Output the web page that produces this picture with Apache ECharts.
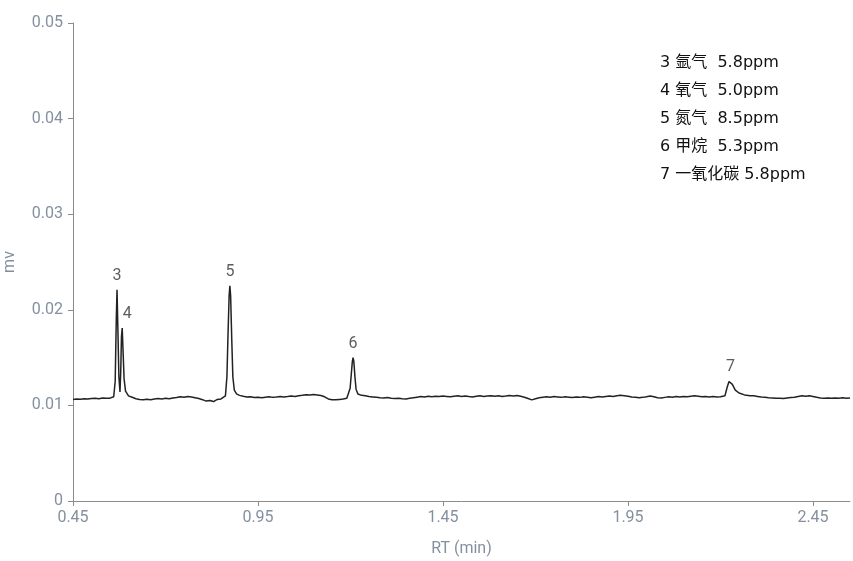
<!DOCTYPE html>
<html>
<head>
<meta charset="utf-8">
<script src="https://cdn.jsdelivr.net/npm/echarts@6/dist/echarts.min.js"></script>
<style>
  html, body { margin: 0; padding: 0; background: #fff; }
  #chart { width: 853px; height: 561px; }
</style>
</head>
<body>
<div id="chart"></div>
<script>
// retention time (min) of each sampled point
var rt = [
  0.45, 0.46, 0.47, 0.48, 0.49, 0.50, 0.51, 0.52, 0.53, 0.54, 0.55,
  0.555, 0.560, 0.564, 0.567, 0.569, 0.571, 0.574, 0.577, 0.579, 0.581, 0.583, 0.585, 0.588, 0.592,
  0.60, 0.61, 0.62, 0.63, 0.64, 0.65, 0.66, 0.67, 0.68, 0.69, 0.70, 0.71, 0.72, 0.73, 0.74, 0.75,
  0.76, 0.77, 0.78, 0.79, 0.80, 0.81, 0.815, 0.82, 0.825, 0.83, 0.835, 0.84, 0.85,
  0.855, 0.862, 0.866, 0.869, 0.872, 0.874, 0.876, 0.879, 0.882, 0.886, 0.892,
  0.90, 0.91, 0.92, 0.93, 0.94, 0.95, 0.96, 0.97, 0.98, 0.99, 1.00, 1.01, 1.02, 1.03, 1.04, 1.05,
  1.06, 1.07, 1.08, 1.09, 1.10, 1.11, 1.12, 1.13, 1.14, 1.15, 1.16, 1.17, 1.18, 1.19,
  1.195, 1.199, 1.202, 1.205, 1.207, 1.209, 1.212, 1.215, 1.220,
  1.23, 1.24, 1.25, 1.26, 1.27, 1.28, 1.29, 1.30, 1.31, 1.32, 1.33, 1.34, 1.35, 1.36, 1.37, 1.38,
  1.39, 1.40, 1.41, 1.42, 1.43, 1.44, 1.45, 1.46, 1.47, 1.48, 1.49, 1.50, 1.51, 1.52, 1.53, 1.54,
  1.55, 1.56, 1.57, 1.58, 1.59, 1.60, 1.61, 1.62, 1.63, 1.64, 1.65, 1.66, 1.67, 1.68, 1.69, 1.70,
  1.71, 1.72, 1.73, 1.74, 1.75, 1.76, 1.77, 1.78, 1.79, 1.80, 1.81, 1.82, 1.83, 1.84, 1.85, 1.86,
  1.87, 1.88, 1.89, 1.90, 1.91, 1.92, 1.93, 1.94, 1.95, 1.96, 1.97, 1.98, 1.99, 2.00, 2.01, 2.02,
  2.03, 2.04, 2.05, 2.06, 2.07, 2.08, 2.09, 2.10, 2.11, 2.12, 2.13, 2.14, 2.15, 2.16, 2.17, 2.18,
  2.19, 2.20, 2.205, 2.212, 2.218, 2.223, 2.227, 2.232, 2.240, 2.250, 2.265, 2.28,
  2.29, 2.30, 2.31, 2.32, 2.33, 2.34, 2.35, 2.36, 2.37, 2.38, 2.39, 2.40, 2.41, 2.42, 2.43, 2.44,
  2.45, 2.46, 2.47, 2.48, 2.49, 2.50, 2.51, 2.52, 2.53, 2.54, 2.55
];

// detector signal (mv) at each retention time
var signal = [
  0.01062, 0.01068, 0.01064, 0.01070, 0.01066, 0.01072, 0.01075, 0.01070, 0.01078, 0.01074, 0.01076,
  0.01075, 0.01090, 0.01250, 0.01900, 0.02210, 0.01850, 0.01300, 0.01140, 0.01350, 0.01720, 0.01810, 0.01600, 0.01280, 0.01150,
  0.01100, 0.01085, 0.01070, 0.01062, 0.01058, 0.01064, 0.01060, 0.01066, 0.01072, 0.01068, 0.01075, 0.01070, 0.01078, 0.01082, 0.01090, 0.01085,
  0.01094, 0.01088, 0.01080, 0.01072, 0.01060, 0.01045, 0.01038, 0.01052, 0.01060, 0.01040, 0.01048, 0.01062, 0.01068,
  0.01066, 0.01100, 0.01300, 0.01750, 0.02150, 0.02250, 0.02150, 0.01700, 0.01300, 0.01160, 0.01120,
  0.01105, 0.01095, 0.01088, 0.01090, 0.01082, 0.01086, 0.01080, 0.01085, 0.01090, 0.01084, 0.01088, 0.01094, 0.01088, 0.01092, 0.01098, 0.01092,
  0.01100, 0.01105, 0.01112, 0.01108, 0.01115, 0.01110, 0.01104, 0.01090, 0.01068, 0.01060, 0.01058, 0.01062, 0.01066, 0.01075,
  0.01095, 0.01180, 0.01320, 0.01460, 0.01500, 0.01460, 0.01300, 0.01170, 0.01120,
  0.01105, 0.01100, 0.01092, 0.01088, 0.01084, 0.01080, 0.01078, 0.01082, 0.01076, 0.01072, 0.01075, 0.01070, 0.01068, 0.01074, 0.01080, 0.01086,
  0.01092, 0.01088, 0.01095, 0.01090, 0.01096, 0.01092, 0.01098, 0.01094, 0.01090, 0.01096, 0.01100, 0.01094, 0.01098, 0.01092, 0.01088, 0.01095,
  0.01100, 0.01094, 0.01098, 0.01102, 0.01096, 0.01100, 0.01094, 0.01098, 0.01103, 0.01098, 0.01104, 0.01095, 0.01086, 0.01072, 0.01058, 0.01070,
  0.01080, 0.01086, 0.01090, 0.01086, 0.01092, 0.01088, 0.01084, 0.01090, 0.01086, 0.01082, 0.01088, 0.01084, 0.01090, 0.01086, 0.01080, 0.01086,
  0.01092, 0.01088, 0.01094, 0.01098, 0.01094, 0.01100, 0.01105, 0.01102, 0.01096, 0.01088, 0.01084, 0.01080, 0.01084, 0.01090, 0.01098, 0.01090,
  0.01080, 0.01078, 0.01084, 0.01090, 0.01086, 0.01092, 0.01088, 0.01094, 0.01090, 0.01095, 0.01100, 0.01096, 0.01090, 0.01094, 0.01088, 0.01092,
  0.01088, 0.01090, 0.01092, 0.01100, 0.01190, 0.01250, 0.01255, 0.01220, 0.01160, 0.01130, 0.01110, 0.01102,
  0.01100, 0.01094, 0.01088, 0.01084, 0.01080, 0.01078, 0.01074, 0.01076, 0.01072, 0.01078, 0.01082, 0.01086, 0.01094, 0.01100, 0.01096, 0.01100,
  0.01094, 0.01085, 0.01078, 0.01076, 0.01078, 0.01074, 0.01078, 0.01076, 0.01080, 0.01076, 0.01078
];

// peak numbers and where they sit
var peakNames = ['3', '4', '5', '6', '7'];
var peakRt = [0.569, 0.583, 0.874, 1.207, 2.227];
var peakTop = [0.02210, 0.01810, 0.02250, 0.01500, 0.01255];

// note in the top right corner
var noteLines = [
  '3 氩气  5.8ppm',
  '4 氧气  5.0ppm',
  '5 氮气  8.5ppm',
  '6 甲烷  5.3ppm',
  '7 一氧化碳 5.8ppm'
];

var xTicks = [0.45, 0.95, 1.45, 1.95, 2.45];

var labelColor = '#8490a0';
var axisColor = '#8c8c8c';

var chart = echarts.init(document.getElementById('chart'));

var traceData = rt.map(function (t, i) { return [t, signal[i]]; });
var peakData = peakRt.map(function (t, i) {
  return {
    value: [t, peakTop[i]],
    name: peakNames[i],
    label: peakNames[i] === '4' ? { offset: [5, 0] } : {}
  };
});

chart.setOption({
  animation: false,
  backgroundColor: '#fff',
  grid: { left: 73, right: 3, top: 23, bottom: 60, outerBoundsMode: 'none', containLabel: false },
  xAxis: {
    type: 'value',
    min: 0.45,
    max: 2.55,
    name: 'RT (min)',
    nameLocation: 'middle',
    nameGap: 40,
    nameTextStyle: { color: labelColor, fontSize: 16, fontFamily: 'Roboto' },
    axisLine: { lineStyle: { color: axisColor, width: 1 } },
    axisTick: { show: true, length: 5, customValues: xTicks, lineStyle: { color: axisColor } },
    axisLabel: {
      customValues: xTicks,
      color: labelColor, fontSize: 16, fontFamily: 'Roboto', margin: 9,
      formatter: function (v) { return v.toFixed(2); }
    },
    splitLine: { show: false }
  },
  yAxis: {
    type: 'value',
    min: 0,
    max: 0.05,
    interval: 0.01,
    name: 'mv',
    nameLocation: 'middle',
    nameGap: 55,
    nameTextStyle: { color: labelColor, fontSize: 16, fontFamily: 'Roboto' },
    axisLine: { show: true, lineStyle: { color: axisColor, width: 1 } },
    axisTick: { show: true, length: 5, lineStyle: { color: axisColor } },
    axisLabel: {
      color: labelColor, fontSize: 16, fontFamily: 'Roboto', margin: 10,
      formatter: function (v) { return v === 0 ? '0' : v.toFixed(2); }
    },
    splitLine: { show: false }
  },
  series: [
    {
      type: 'line',
      data: traceData,
      showSymbol: false,
      lineStyle: { color: '#222', width: 1.5 },
      silent: true
    },
    {
      type: 'scatter',
      data: peakData,
      symbolSize: 0,
      silent: true,
      label: {
        show: true,
        position: 'top',
        distance: 6,
        formatter: '{b}',
        color: '#333',
        fontSize: 16,
        fontFamily: 'Roboto'
      }
    }
  ],
  graphic: noteLines.map(function (line, i) {
    return {
      type: 'text',
      left: 660,
      top: 55 + i * 28,
      style: {
        text: line,
        font: '16px "DejaVu Sans", "Noto Sans CJK SC", sans-serif',
        fill: '#111'
      }
    };
  })
});
</script>
</body>
</html>
